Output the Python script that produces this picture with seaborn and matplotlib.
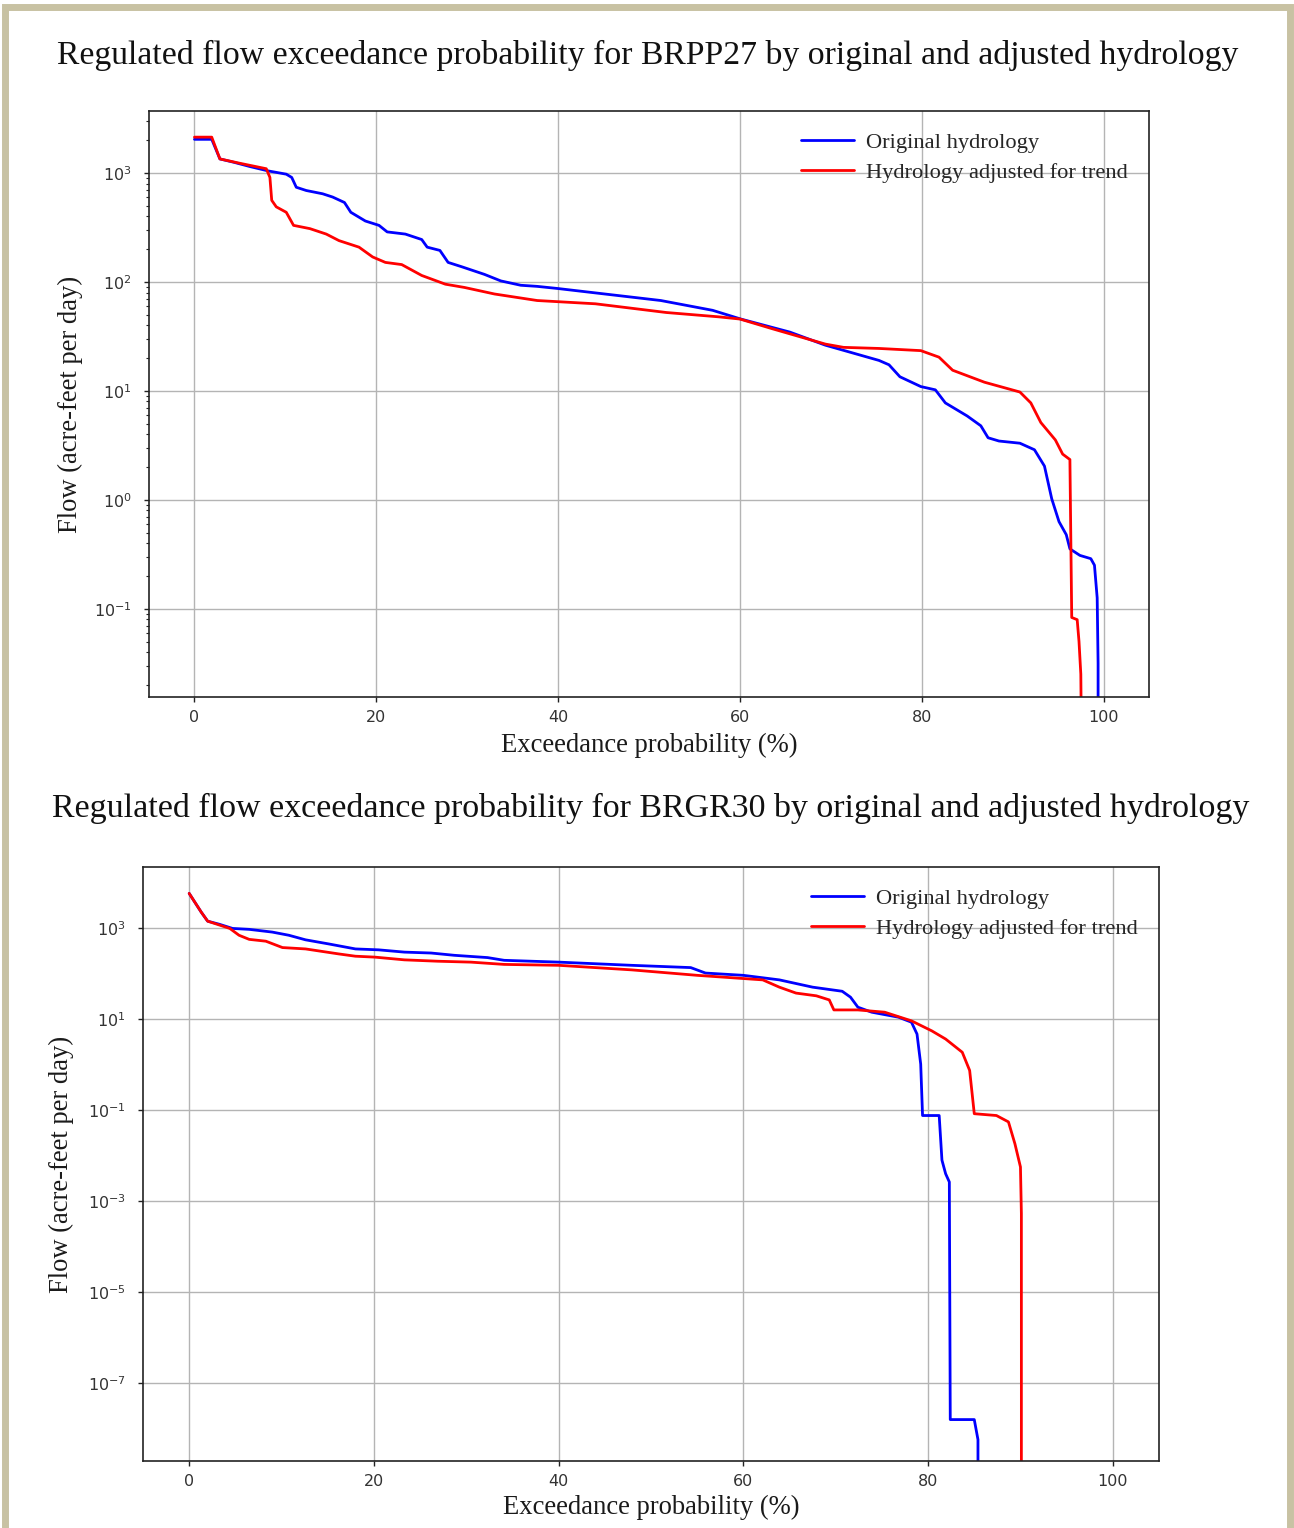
import numpy as np
import pandas as pd
import matplotlib
matplotlib.use("Agg")
import matplotlib.pyplot as plt
import seaborn as sns
from matplotlib.patches import Rectangle
from matplotlib.ticker import FixedLocator, NullLocator, LogFormatterSciNotation

# ---------------- data ----------------
SERIES = ["Original hydrology", "Hydrology adjusted for trend"]
COLORS = ["blue", "red"]

TITLE_1 = "Regulated flow exceedance probability for BRPP27 by original and adjusted hydrology"
TITLE_2 = "Regulated flow exceedance probability for BRGR30 by original and adjusted hydrology"
XLABEL = "Exceedance probability (%)"
YLABEL = "Flow (acre-feet per day)"
XTICKS = [0, 20, 40, 60, 80, 100]
YTICK_EXP_1 = [-1, 0, 1, 2, 3]
YTICK_EXP_2 = [-7, -5, -3, -1, 1, 3]

# BRPP27 - original hydrology: exceedance (%) and log10(flow)
brpp27_orig_x = [0, 1.9, 2.8, 4.3, 6.1, 8.1, 10.1, 10.7, 11.2, 12.3, 14.1, 15.2, 16.5, 17.2,
                 18.8, 20.3, 21.2, 23.2, 25.0, 25.6, 27.0, 27.9, 29.4, 31.9, 33.7, 35.9,
                 37.7, 40.0, 44.1, 51.3, 57.0, 60.1, 65.5, 69.4, 75.3, 76.4, 77.6, 79.9,
                 81.5, 82.6, 85.0, 86.5, 87.3, 88.5, 90.8, 92.4, 93.5, 94.3, 95.1, 95.9,
                 96.3, 97.4, 98.6, 99.0, 99.3, 99.4, 99.4]
brpp27_orig_log = [3.31, 3.31, 3.13, 3.10, 3.06, 3.02, 2.99, 2.96, 2.87, 2.84, 2.81, 2.78, 2.73,
                   2.64, 2.56, 2.52, 2.46, 2.44, 2.39, 2.32, 2.29, 2.18, 2.14, 2.07, 2.01,
                   1.97, 1.96, 1.94, 1.90, 1.83, 1.74, 1.66, 1.54, 1.42, 1.28, 1.24, 1.13,
                   1.04, 1.01, 0.89, 0.77, 0.68, 0.57, 0.54, 0.52, 0.46, 0.31, 0.01, -0.20,
                   -0.32, -0.45, -0.51, -0.54, -0.60, -0.90, -1.50, -2.50]

# BRPP27 - hydrology adjusted for trend
brpp27_adj_x = [0, 1.9, 2.8, 5.0, 7.9, 8.3, 8.5, 9.0, 10.1, 10.9, 12.7, 14.5, 15.9, 18.1,
                19.6, 21.0, 22.8, 25.0, 27.6, 29.7, 33.0, 37.7, 44.1, 51.9, 57.7, 60.0,
                63.6, 69.4, 71.4, 75.3, 79.9, 81.9, 83.4, 86.9, 90.8, 92.0, 93.1, 93.9,
                94.7, 95.5, 96.3, 96.5, 97.1, 97.3, 97.5, 97.6]
brpp27_adj_log = [3.33, 3.33, 3.13, 3.09, 3.04, 2.96, 2.75, 2.69, 2.64, 2.52, 2.49, 2.44, 2.38,
                  2.32, 2.23, 2.18, 2.16, 2.06, 1.98, 1.95, 1.89, 1.83, 1.80, 1.72, 1.68,
                  1.66, 1.57, 1.43, 1.40, 1.39, 1.37, 1.31, 1.19, 1.08, 0.99, 0.89, 0.71,
                  0.63, 0.55, 0.42, 0.37, -1.08, -1.10, -1.30, -1.60, -2.50]

# BRGR30 - original hydrology
brgr30_orig_x = [0, 0.6, 1.3, 2.0, 3.3, 4.7, 6.5, 9.0, 10.8, 12.6, 15.1, 18.0, 20.5, 23.3,
                 26.2, 28.7, 32.3, 34.1, 40.0, 47.9, 54.3, 55.9, 60.0, 63.9, 67.5, 70.7,
                 71.6, 72.4, 73.9, 76.8, 78.2, 78.8, 79.2, 79.4, 81.2, 81.5, 81.9, 82.3,
                 82.4, 85.0, 85.4, 85.4]
brgr30_orig_log = [3.76, 3.57, 3.35, 3.15, 3.08, 2.99, 2.97, 2.91, 2.84, 2.74, 2.65, 2.54, 2.52,
                   2.47, 2.45, 2.40, 2.35, 2.29, 2.25, 2.18, 2.13, 2.01, 1.96, 1.86, 1.70,
                   1.61, 1.48, 1.26, 1.15, 1.04, 0.93, 0.67, 0.01, -1.12, -1.12, -2.10,
                   -2.40, -2.58, -7.80, -7.80, -8.24, -9.50]

# BRGR30 - hydrology adjusted for trend
brgr30_adj_x = [0, 1.3, 2.0, 4.4, 5.4, 6.5, 8.3, 10.1, 12.6, 16.2, 18.0, 20.1, 23.3, 26.9,
                30.5, 34.1, 40.0, 47.9, 55.0, 62.1, 63.9, 65.7, 67.9, 69.3, 69.8, 72.4,
                75.3, 78.2, 80.4, 81.9, 83.7, 84.5, 85.0, 87.4, 88.7, 89.4, 90.0, 90.1, 90.1]
brgr30_adj_log = [3.76, 3.35, 3.15, 2.99, 2.84, 2.75, 2.71, 2.57, 2.54, 2.43, 2.38, 2.36, 2.30,
                  2.27, 2.25, 2.20, 2.18, 2.08, 1.96, 1.86, 1.70, 1.57, 1.51, 1.42, 1.20,
                  1.20, 1.15, 0.96, 0.74, 0.56, 0.27, -0.13, -1.08, -1.12, -1.26, -1.74,
                  -2.25, -3.27, -9.50]


def make_frame(xo, lo, xa, la):
    d1 = pd.DataFrame({"x": xo, "flow": 10.0 ** np.array(lo), "series": SERIES[0]})
    d2 = pd.DataFrame({"x": xa, "flow": 10.0 ** np.array(la), "series": SERIES[1]})
    return pd.concat([d1, d2], ignore_index=True)


df1 = make_frame(brpp27_orig_x, brpp27_orig_log, brpp27_adj_x, brpp27_adj_log)
df2 = make_frame(brgr30_orig_x, brgr30_orig_log, brgr30_adj_x, brgr30_adj_log)

# ---------------- style ----------------
sns.set_theme(style="ticks")
SERIF = ["Liberation Serif", "DejaVu Serif"]
plt.rcParams.update({
    "font.family": ["DejaVu Sans"],
    "axes.edgecolor": "#222222",
    "axes.linewidth": 1.2,
    "xtick.color": "#222222",
    "ytick.color": "#222222",
    "xtick.labelcolor": "#333333",
    "ytick.labelcolor": "#333333",
    "xtick.major.size": 3.5,
    "ytick.major.size": 3.5,
    "ytick.minor.size": 2.0,
    "xtick.major.width": 1.0,
    "ytick.major.width": 1.0,
    "ytick.minor.width": 0.8,
    "xtick.labelsize": 11.5,
    "ytick.labelsize": 11.5,
})

W, H = 1294, 1528
fig = plt.figure(figsize=(W / 100, H / 100), dpi=100)
fig.patch.set_facecolor("white")

# beige frame around the page
fig.patches.append(Rectangle((5 / W, -0.05), (1290 - 5) / W, 1.05 - 7 / H,
                             transform=fig.transFigure, fill=False,
                             edgecolor="#c8c2a3", linewidth=5, zorder=0))

ax1 = fig.add_axes([149 / W, 1 - 697 / H, 1000 / W, 586 / H])
ax2 = fig.add_axes([143 / W, 1 - 1461 / H, 1016 / W, 594 / H])

palette = dict(zip(SERIES, COLORS))

setups = [
    (ax1, df1, TITLE_1, 55, 648, 24.3, YTICK_EXP_1, (10 ** -1.81, 10 ** 3.57), -0.082, -0.079, True),
    (ax2, df2, TITLE_2, 808, 651, 24.5, YTICK_EXP_2, (10 ** -8.71, 10 ** 4.34), -0.079, -0.080, False),
]

for ax, df, title, ty, tx, tfs, yexp, ylim, xlab_y, ylab_x, minor in setups:
    sns.lineplot(data=df, x="x", y="flow", hue="series", palette=palette,
                 estimator=None, sort=False, linewidth=2.0, ax=ax, legend=True)
    ax.set_yscale("log")
    ax.set_xlim(-5, 105)
    ax.set_ylim(*ylim)
    ax.xaxis.set_major_locator(FixedLocator(XTICKS))
    ax.yaxis.set_major_locator(FixedLocator([10.0 ** e for e in yexp]))
    ax.yaxis.set_major_formatter(LogFormatterSciNotation())
    if not minor:
        ax.yaxis.set_minor_locator(NullLocator())
    ax.grid(True, which="major", color="#b4b4b4", linewidth=1.0)
    ax.tick_params(axis="x", pad=6)
    ax.tick_params(axis="y", which="major", pad=9)
    for s in ax.spines.values():
        s.set_visible(True)

    ax.set_xlabel(XLABEL, family=SERIF, fontsize=19.2, color="#1a1a1a")
    ax.set_ylabel(YLABEL, family=SERIF, fontsize=19.2, color="#1a1a1a")
    ax.xaxis.set_label_coords(0.5, xlab_y)
    ax.xaxis.label.set_va("center")
    ax.yaxis.set_label_coords(ylab_x, 0.5)
    ax.yaxis.label.set_va("center")

    handles, labels = ax.get_legend_handles_labels()
    ax.legend(handles, labels, loc="upper right", frameon=False,
              prop={"family": SERIF, "size": 16.2}, handlelength=2.36,
              handletextpad=0.53, labelspacing=0.4, borderaxespad=0.55)

    fig.text(tx / W, 1 - ty / H, title, ha="center", va="center",
             family=SERIF, fontsize=tfs, color="#111111")

fig.savefig("out.png", dpi=100)
